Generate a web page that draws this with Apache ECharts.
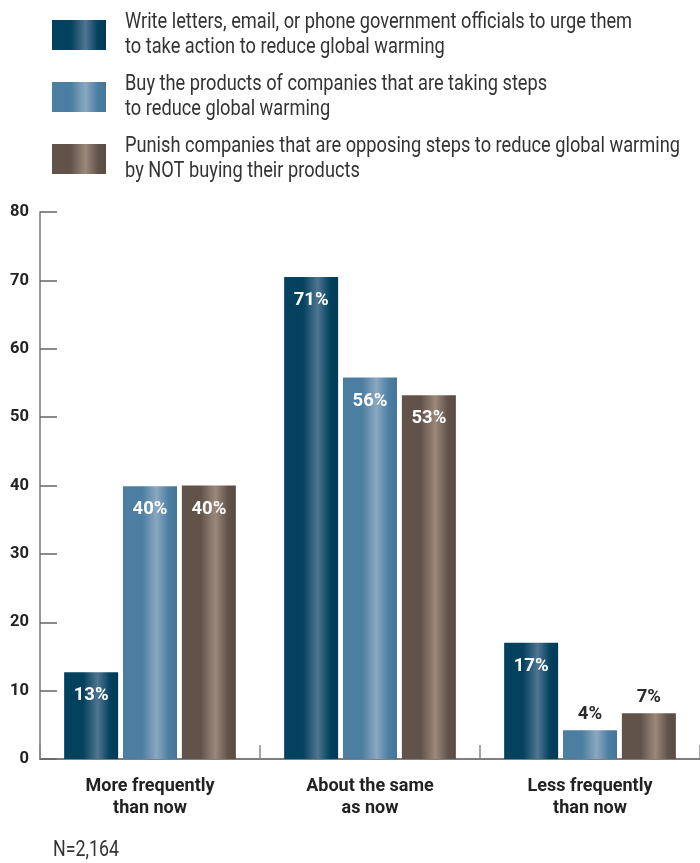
<!DOCTYPE html>
<html><head><meta charset="utf-8">
<script src="https://cdn.jsdelivr.net/npm/echarts@6/dist/echarts.min.js"></script>
<style>html,body{margin:0;padding:0;background:#fff}#c{width:700px;height:863px}</style>
</head><body><div id="c"></div>
<script>
var categories = ['More frequently\nthan now', 'About the same\nas now', 'Less frequently\nthan now'];
var seriesNames = [
  'Write letters, email, or phone government officials to urge them\nto take action to reduce global warming',
  'Buy the products of companies that are taking steps\nto reduce global warming',
  'Punish companies that are opposing steps to reduce global warming\nby NOT buying their products'
];
var writeValues = [12.7, 70.5, 17.0];
var buyValues = [39.9, 55.8, 4.2];
var punishValues = [40.0, 53.2, 6.7];
var writeLabels = ['13%', '71%', '17%'];
var buyLabels = ['40%', '56%', '4%'];
var punishLabels = ['40%', '53%', '7%'];
var yTicks = [0, 10, 20, 30, 40, 50, 60, 70, 80];
var footnote = 'N=2,164';

var FONT = 'Roboto, "Noto Sans", sans-serif';
var LEGEND_SIZE = 22.5;

// measure to get a condensed look for legend text
var cv = document.createElement('canvas').getContext('2d');
cv.font = LEGEND_SIZE + 'px ' + FONT;
var longest = 'Punish companies that are opposing steps to reduce global warming';
var sx = Math.min(1, 555 / cv.measureText(longest).width);

function grad(base, hi, dark) {
  return new echarts.graphic.LinearGradient(0, 0, 1, 0, [
    {offset: 0, color: base},
    {offset: 0.35, color: base},
    {offset: 0.62, color: hi},
    {offset: 0.85, color: base},
    {offset: 1, color: dark}
  ]);
}
var colors = [
  grad('#03415e', '#4f7591', '#023a55'),
  grad('#4b7ea1', '#8aa7c1', '#44769a'),
  grad('#62534a', '#9b887b', '#5a4b43')
];
function mkData(vals, labels) {
  return vals.map(function (v, i) {
    var d = {value: v, labelText: labels[i]};
    if (v < 10) {
      d.label = {position: 'top', distance: 6, color: '#2b2b2b'};
    }
    return d;
  });
}
var allData = [mkData(writeValues, writeLabels), mkData(buyValues, buyLabels), mkData(punishValues, punishLabels)];
var series = seriesNames.map(function (n, k) {
  return {
    name: n, type: 'bar', barWidth: 54, barGap: '9%',
    itemStyle: {color: colors[k]},
    data: allData[k],
    label: {
      show: true, position: 'insideTop', distance: 14,
      color: '#fff', fontFamily: FONT, fontWeight: 'bold', fontSize: 18.5,
      formatter: function (p) { return p.data.labelText; }
    }
  };
});

var legendTop = 20, legendStep = 62;
var graphics = seriesNames.map(function (n, k) {
  return {
    type: 'text', x: 125, y: legendTop + 15 + k * legendStep, scaleX: sx,
    style: {text: n, fontFamily: FONT, fontSize: LEGEND_SIZE, lineHeight: 25,
      fill: '#333', verticalAlign: 'middle', align: 'left'}
  };
});
graphics.push({
  type: 'text', x: 53, y: 850, scaleX: sx,
  style: {text: footnote, fontFamily: FONT, fontSize: 22, fill: '#333', verticalAlign: 'middle'}
});

var chart = echarts.init(document.getElementById('c'), null, {renderer: 'canvas'});
chart.setOption({
  animation: false,
  legend: {
    orient: 'vertical', left: 52, top: legendTop, padding: 0,
    itemWidth: 54, itemHeight: 30, itemGap: legendStep - 30,
    icon: 'rect', formatter: function () { return ''; },
    selectedMode: false,
    data: seriesNames
  },
  grid: {left: 40, right: 0, top: 212, bottom: 104},
  xAxis: {
    type: 'category', data: categories,
    axisLine: {lineStyle: {color: '#555', width: 1.5}},
    axisTick: {show: true, inside: true, length: 14, lineStyle: {color: '#888', width: 1.5}},
    axisLabel: {margin: 16, fontFamily: FONT, fontWeight: 'bold', fontSize: 18, lineHeight: 22, color: '#222'}
  },
  yAxis: {
    type: 'value', min: 0, max: 80, interval: 10,
    axisLine: {show: true, lineStyle: {color: '#777', width: 1.5}},
    axisTick: {show: true, inside: true, length: 17, lineStyle: {color: '#666', width: 1.5}},
    splitLine: {show: false},
    axisLabel: {margin: 11, fontFamily: FONT, fontWeight: 'bold', fontSize: 16.5, color: '#222',
      formatter: function (v) { return yTicks.indexOf(v) >= 0 ? String(v) : ''; }}
  },
  graphic: graphics,
  series: series
});
</script></body></html>
